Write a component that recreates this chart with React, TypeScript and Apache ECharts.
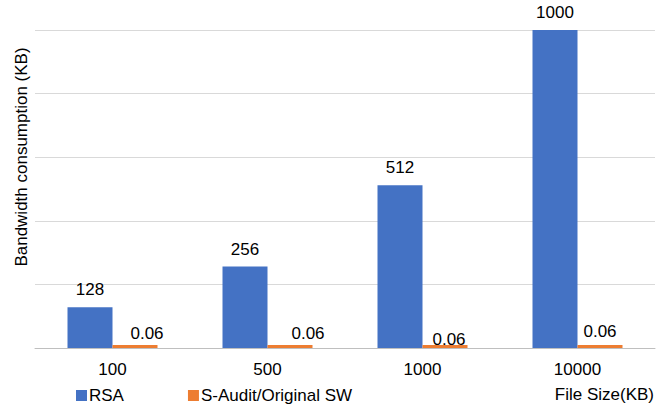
import React, { useEffect, useRef } from "react";
import * as echarts from "echarts";

const categories = ["100", "500", "1000", "10000"];
const rsaValues = [128, 256, 512, 1000];
const sAuditValues = [0.06, 0.06, 0.06, 0.06];
const seriesNames = ["RSA", "S-Audit/Original SW"];
const yTitle = "Bandwidth consumption (KB)";
const xTitle = "File Size(KB)";

// label nudges for the small series (as placed in the original)
const smallLabelShift = [
  [12, 0],
  [18, 0],
  [4, 6],
  [0, -2],
];

const FONT = "'Liberation Sans', Arial, sans-serif";

export default function App() {
  const ref = useRef<HTMLDivElement>(null);
  useEffect(() => {
    document.body.style.margin = "0";
    const chart = echarts.init(ref.current!, null, { renderer: "svg" });
    chart.setOption({
      animation: false,
      textStyle: { fontFamily: FONT },
      grid: { left: 35, right: 17, top: 30, bottom: 63, containLabel: false },
      legend: {
        left: 71,
        top: 382,
        itemWidth: 11,
        itemHeight: 11,
        itemGap: 64,
        icon: "rect",
        textStyle: { fontSize: 17, color: "#000", fontFamily: FONT, padding: [0, 0, 0, -3] },
        data: seriesNames,
      },
      graphic: [
        {
          type: "text",
          x: 21,
          y: 157,
          rotation: Math.PI / 2,
          style: {
            text: yTitle,
            fontSize: 17,
            fontFamily: FONT,
            fill: "#000",
            align: "center",
            verticalAlign: "middle",
          },
        },
        {
          type: "text",
          right: 18,
          top: 386,
          style: {
            text: xTitle,
            fontSize: 17,
            fontFamily: FONT,
            fill: "#000",
          },
        },
      ],
      xAxis: {
        type: "category",
        data: categories,
        axisLine: { lineStyle: { color: "#bfbfbf" } },
        axisTick: { show: false },
        axisLabel: { fontSize: 17, color: "#000", margin: 13, fontFamily: FONT },
      },
      yAxis: {
        type: "value",
        min: 0,
        max: 1000,
        interval: 200,
        axisLabel: { show: false },
        axisLine: { show: false },
        axisTick: { show: false },
        splitLine: { lineStyle: { color: "#d9d9d9" } },
      },
      series: [
        {
          name: seriesNames[0],
          type: "bar",
          data: rsaValues,
          barWidth: 45,
          barGap: "0%",
          itemStyle: { color: "#4472C4" },
          label: {
            show: true,
            position: "top",
            distance: 9,
            fontSize: 17,
            color: "#000",
            fontFamily: FONT,
          },
        },
        {
          name: seriesNames[1],
          type: "bar",
          data: sAuditValues.map((v, i) => ({
            value: v,
            label: { offset: smallLabelShift[i] },
          })),
          barWidth: 45,
          barMinHeight: 3,
          itemStyle: { color: "#ED7D31" },
          label: {
            show: true,
            position: "top",
            distance: 3,
            fontSize: 17,
            color: "#000",
            fontFamily: FONT,
          },
        },
      ],
    });
    return () => chart.dispose();
  }, []);
  return <div ref={ref} style={{ width: 672, height: 411 }} />;
}
